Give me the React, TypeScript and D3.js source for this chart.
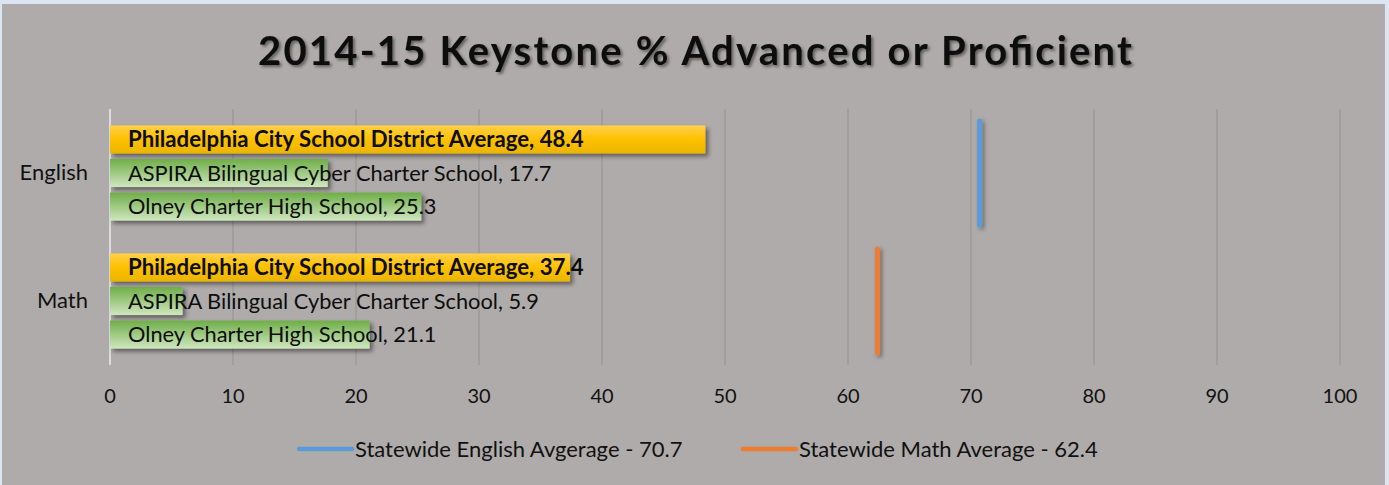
import React from "react";
import * as d3 from "d3";

const categories = ["English", "Math"];
const schools = [
  "Philadelphia City School District Average",
  "ASPIRA Bilingual Cyber Charter School",
  "Olney Charter High School",
];
const englishValues = [48.4, 17.7, 25.3];
const mathValues = [37.4, 5.9, 21.1];
const statewideValues = [70.7, 62.4];
const statewideLabels = [
  "Statewide English Avgerage - 70.7",
  "Statewide Math Average - 62.4",
];
const lineColors = ["#5b9bd5", "#ed7d31"];

const width = 1389;
const height = 485;
const font = "Lato, 'Open Sans', sans-serif";

const App: React.FC = () => {
  const x = d3.scaleLinear().domain([0, 100]).range([110, 1340]);
  const y = d3.scaleBand<string>().domain(categories).range([109, 365]);
  const inner = d3
    .scaleBand<string>()
    .domain(schools)
    .range([0, y.bandwidth()])
    .paddingInner(0.165)
    .paddingOuter(0.49);

  const valuesByCat = [englishValues, mathValues];
  const ticks = x.ticks(10);

  return (
    <svg
      width={width}
      height={height}
      style={{ position: "absolute", left: 0, top: 0 }}
      fontFamily={font}
    >
      <defs>
        <linearGradient id="gold" x1="0" y1="0" x2="0" y2="1">
          <stop offset="0" stopColor="#ffd04a" />
          <stop offset="0.5" stopColor="#ffc000" />
          <stop offset="1" stopColor="#eab500" />
        </linearGradient>
        <linearGradient id="green" x1="0" y1="0" x2="0" y2="1">
          <stop offset="0" stopColor="#6fae48" />
          <stop offset="1" stopColor="#cfe6bf" />
        </linearGradient>
        <filter id="shadow" x="-10%" y="-30%" width="130%" height="180%">
          <feDropShadow dx="3" dy="3" stdDeviation="2" floodColor="#000" floodOpacity="0.45" />
        </filter>
        <filter
          id="lineShadow"
          filterUnits="userSpaceOnUse"
          x={0}
          y={0}
          width={width}
          height={height}
        >
          <feDropShadow dx="2" dy="2" stdDeviation="2" floodColor="#000" floodOpacity="0.4" />
        </filter>
        <filter id="titleShadow" x="-5%" y="-30%" width="110%" height="170%">
          <feDropShadow dx="2" dy="2" stdDeviation="1.5" floodColor="#000" floodOpacity="0.45" />
        </filter>
      </defs>

      <rect width={width} height={height} fill="#dce6f2" />
      <rect x={2} y={4} width={1383} height={height - 4} fill="#afabaa" />

      <text
        x={258}
        y={65}
        textLength={874}
        lengthAdjust="spacing"
        fontSize={40}
        fontWeight="bold"
        fill="#0d0d0d"
        filter="url(#titleShadow)"
      >
        2014-15 Keystone % Advanced or Proficient
      </text>

      {/* gridlines */}
      {ticks.map((t) => (
        <line
          key={t}
          x1={x(t)}
          x2={x(t)}
          y1={109}
          y2={365}
          stroke={t === 0 ? "#dcdcdc" : "#9e9a99"}
          strokeWidth={t === 0 ? 2 : 1.5}
        />
      ))}

      {ticks.map((t) => (
        <text key={t} x={x(t)} y={403} textAnchor="middle" fontSize={20} fill="#111">
          {t}
        </text>
      ))}

      {categories.map((c) => (
        <text
          key={c}
          x={88}
          y={(y(c) ?? 0) + y.bandwidth() / 2 + 7}
          textAnchor="end"
          fontSize={22}
          fill="#111"
        >
          {c}
        </text>
      ))}

      {/* bars */}
      {categories.map((c, ci) =>
        schools.map((s, si) => {
          const v = valuesByCat[ci][si];
          const top = (y(c) ?? 0) + (inner(s) ?? 0);
          const bold = si === 0;
          return (
            <g key={c + s}>
              <rect
                x={x(0)}
                y={top}
                width={x(v) - x(0)}
                height={inner.bandwidth()}
                fill={bold ? "url(#gold)" : "url(#green)"}
                filter="url(#shadow)"
              />
              <text
                x={x(0) + 18}
                y={top + inner.bandwidth() / 2 + 7.5}
                fontSize={bold ? 22.2 : 21.8}
                fontWeight={bold ? "bold" : "normal"}
                fill="#0d0d0d"
              >
                {`${s}, ${v}`}
              </text>
            </g>
          );
        })
      )}

      {/* statewide averages */}
      {categories.map((c, ci) => (
        <line
          key={c}
          x1={x(statewideValues[ci])}
          x2={x(statewideValues[ci])}
          y1={(y(c) ?? 0) + 12}
          y2={(y(c) ?? 0) + y.bandwidth() - 12}
          stroke={lineColors[ci]}
          strokeWidth={5}
          strokeLinecap="round"
          filter="url(#lineShadow)"
        />
      ))}

      {/* legend */}
      {statewideLabels.map((l, i) => {
        const lx = [299, 743][i];
        return (
          <g key={l}>
            <line
              x1={lx}
              x2={lx + 53}
              y1={449}
              y2={449}
              stroke={lineColors[i]}
              strokeWidth={4.5}
              strokeLinecap="round"
            />
            <text x={lx + 56} y={457} fontSize={22} fill="#111">
              {l}
            </text>
          </g>
        );
      })}
    </svg>
  );
};

export default App;
